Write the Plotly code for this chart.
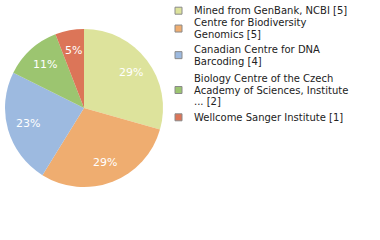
import math
import plotly.graph_objects as go

names = ["Mined from GenBank, NCBI [5]",
         "Centre for Biodiversity Genomics [5]",
         "Canadian Centre for DNA Barcoding [4]",
         "Biology Centre of the Czech Academy of Sciences, Institute ... [2]",
         "Wellcome Sanger Institute [1]"]
legend_lines = [["Mined from GenBank, NCBI [5]"],
                ["Centre for Biodiversity", "Genomics [5]"],
                ["Canadian Centre for DNA", "Barcoding [4]"],
                ["Biology Centre of the Czech", "Academy of Sciences, Institute", "... [2]"],
                ["Wellcome Sanger Institute [1]"]]
values = [5, 5, 4, 2, 1]
pct_labels = ["29%", "29%", "23%", "11%", "5%"]
colors = ["#dde39c", "#efad70", "#9dbae0", "#9cc570", "#dc7558"]

W, H = 380, 240
cx, cy, r = 84, 108, 79  # pie centre / radius in px (from top-left)

fig = go.Figure(go.Pie(
    labels=names, values=values,
    textinfo="none",
    marker=dict(colors=colors, line=dict(width=0)),
    sort=False, direction="clockwise", rotation=0,
    domain=dict(x=[(cx - r) / W, (cx + r) / W], y=[(H - cy - r) / H, (H - cy + r) / H]),
    hoverinfo="none", showlegend=False,
))

annotations = []
shapes = []
# percentage labels along each slice's mid-angle
total = sum(values)
cum = 0
for v, t in zip(values, pct_labels):
    mid = (cum + v / 2) / total * 2 * math.pi
    cum += v
    rr = r * 0.74
    x = cx + rr * math.sin(mid)
    y = cy - rr * math.cos(mid)
    annotations.append(dict(x=x / W, y=1 - y / H, xref="paper", yref="paper",
                            text=t, showarrow=False, xanchor="center", yanchor="middle",
                            font=dict(color="white", size=11, family="DejaVu Sans")))

# legend (layout positions in px from top)
line_h = 11.7
item_top = [10.7, 22.7, 49.3, 78.3, 117.3]
for lines, col, first in zip(legend_lines, colors, item_top):
    n = len(lines)
    mid = first + (n - 1) * line_h / 2
    shapes.append(dict(type="rect", xref="paper", yref="paper",
                       x0=175 / W, x1=182 / W, y0=1 - (mid - 3.5) / H, y1=1 - (mid + 3.5) / H,
                       fillcolor=col, line=dict(color="#8a8a8a", width=1)))
    for i, ln in enumerate(lines):
        yy = first + i * line_h
        annotations.append(dict(x=192 / W, y=1 - yy / H, xref="paper", yref="paper",
                                text=ln, showarrow=False, xanchor="left", yanchor="middle",
                                font=dict(color="#222222", size=10, family="DejaVu Sans")))

fig.update_layout(
    width=W, height=H, margin=dict(l=0, r=0, t=0, b=0),
    paper_bgcolor="white", plot_bgcolor="white",
    annotations=annotations, shapes=shapes,
)
fig.write_html("out.html")
